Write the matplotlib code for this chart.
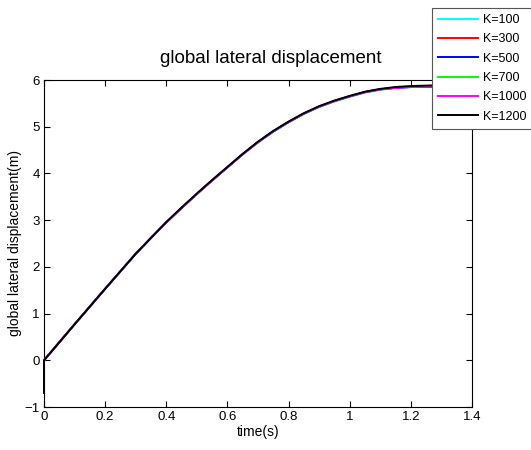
#!/usr/bin/env python3

import matplotlib

matplotlib.use("Agg")
import matplotlib.pyplot as plt

# time samples (s)
time_s = [0.0, 0.0, 0.1, 0.2, 0.3, 0.35, 0.4, 0.45, 0.5, 0.55, 0.6, 0.65, 0.7, 0.75, 0.8,
          0.85, 0.9, 0.95, 1.0, 1.05, 1.1, 1.15, 1.2, 1.3]

# lateral displacement (m) per stiffness value
disp_k100 = [-0.7, 0.0, 0.77, 1.53, 2.28, 2.62, 2.95, 3.26, 3.56, 3.85, 4.13, 4.41, 4.66, 4.89,
             5.09, 5.27, 5.42, 5.54, 5.64, 5.73, 5.79, 5.83, 5.85, 5.87]
disp_k300 = [-0.7, 0.0, 0.77, 1.53, 2.28, 2.62, 2.95, 3.26, 3.56, 3.85, 4.13, 4.41, 4.67, 4.90,
             5.10, 5.28, 5.43, 5.55, 5.65, 5.74, 5.80, 5.84, 5.86, 5.86]
disp_k500 = [-0.7, 0.0, 0.77, 1.53, 2.28, 2.62, 2.95, 3.26, 3.56, 3.85, 4.13, 4.41, 4.67, 4.90,
             5.10, 5.28, 5.43, 5.55, 5.65, 5.74, 5.80, 5.83, 5.85, 5.85]
disp_k700 = [-0.7, 0.0, 0.77, 1.53, 2.28, 2.62, 2.95, 3.26, 3.56, 3.85, 4.13, 4.41, 4.67, 4.90,
             5.10, 5.28, 5.43, 5.55, 5.65, 5.74, 5.80, 5.84, 5.86, 5.87]
disp_k1000 = [-0.7, 0.0, 0.77, 1.53, 2.28, 2.62, 2.95, 3.26, 3.56, 3.85, 4.13, 4.41, 4.67, 4.90,
              5.10, 5.28, 5.43, 5.55, 5.65, 5.74, 5.80, 5.83, 5.85, 5.86]
disp_k1200 = [-0.7, 0.0, 0.77, 1.53, 2.28, 2.62, 2.96, 3.27, 3.57, 3.86, 4.14, 4.42, 4.68, 4.91,
              5.11, 5.29, 5.44, 5.56, 5.66, 5.75, 5.81, 5.85, 5.87, 5.89]

labels = ["K=100", "K=300", "K=500", "K=700", "K=1000", "K=1200"]
colors = ["#00ffff", "#ff0000", "#0000ff", "#00ff00", "#ff00ff", "#000000"]
series = [disp_k100, disp_k300, disp_k500, disp_k700, disp_k1000, disp_k1200]

x_ticks = [0, 0.2, 0.4, 0.6, 0.8, 1.0, 1.2, 1.4]
x_tick_labels = ["0", "0.2", "0.4", "0.6", "0.8", "1", "1.2", "1.4"]
y_ticks = [-1, 0, 1, 2, 3, 4, 5, 6]

plt.rcParams["font.family"] = ["Liberation Sans", "DejaVu Sans"]

fig = plt.figure(figsize=(5.31, 4.5), dpi=100)
ax = fig.add_axes([44 / 531, 43 / 450, 428 / 531, 327 / 450])

for values, label, color in zip(series, labels, colors):
    # lines sit on top of the left spine, as in the original figure
    ax.plot(time_s, values, label=label, color=color, linewidth=1.4, clip_on=False, zorder=3)

ax.set_xlim(0, 1.4)
ax.set_ylim(-1, 6)
ax.set_xticks(x_ticks)
ax.set_xticklabels(x_tick_labels)
ax.set_yticks(y_ticks)
ax.tick_params(direction="in", top=True, right=True, labelsize=9.5, length=4, width=0.8, pad=3)
for spine in ax.spines.values():
    spine.set_linewidth(0.8)
    spine.set_zorder(2)

ax.set_title("global lateral displacement", fontsize=13.5, pad=12, x=0.53)
ax.set_xlabel("time(s)", fontsize=10, labelpad=1)
ax.set_ylabel("global lateral displacement(m)", fontsize=10, labelpad=2)

legend = ax.legend(
    loc="upper left",
    bbox_to_anchor=(432 / 531, 1 - 8 / 450),
    bbox_transform=fig.transFigure,
    borderaxespad=0,
    fancybox=False,
    fontsize=9,
    handlelength=3.2,
    handletextpad=0.4,
    labelspacing=0.58,
    borderpad=0.5,
    framealpha=1,
)
legend.get_frame().set_edgecolor("#555555")
legend.get_frame().set_linewidth(0.8)
legend.set_zorder(5)

fig.savefig("out.png", dpi=100)
plt.close(fig)
